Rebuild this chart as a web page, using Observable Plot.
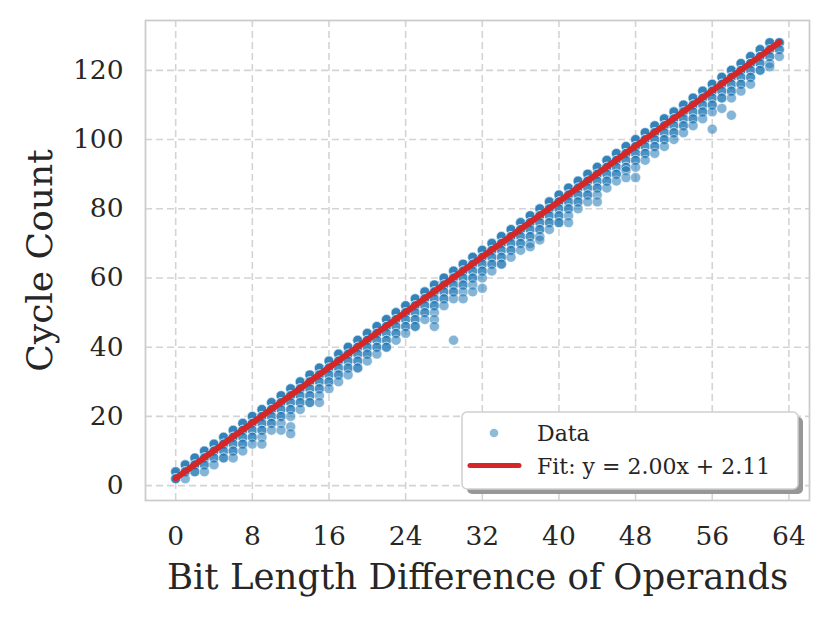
<!DOCTYPE html>
<html>
<head>
<meta charset="utf-8">
<script src="https://cdn.jsdelivr.net/npm/d3@7"></script>
<script src="https://cdn.jsdelivr.net/npm/@observablehq/plot@0.6"></script>
<style>
  html, body { margin: 0; padding: 0; background: #ffffff; }
  svg { display: block; }
</style>
</head>
<body>
<div id="chart"></div>
<script>
// Bit length difference of operands (x) and the cycle counts observed for each
const bitDiffs = [0,1,2,3,4,5,6,7,8,9,10,11,12,13,14,15,16,17,18,19,20,21,22,23,24,25,26,27,28,29,30,31,
                  32,33,34,35,36,37,38,39,40,41,42,43,44,45,46,47,48,49,50,51,52,53,54,55,56,57,58,59,60,61,62,63];
const cycleCounts = [
  [4,4,4,2,2,2],
  [6,6,6,4,4,4,2],
  [8,8,8,6,6,6,4,4],
  [10,10,10,8,8,8,6,6,4],
  [12,12,12,10,10,10,8,8,6],
  [14,14,14,12,12,12,10,10,8,8],
  [16,16,16,14,14,14,12,12,10,10,8],
  [18,18,18,16,16,16,14,14,12,12,10],
  [20,20,20,18,18,18,16,16,14,14,12],
  [22,22,22,20,20,20,18,18,16,16,14,12],
  [24,24,24,22,22,22,20,20,18,18,16],
  [26,26,26,24,24,24,22,22,20,20,18,16],
  [28,28,28,26,26,26,24,24,22,22,20,17,15],
  [30,30,30,28,28,28,26,26,24,24,22],
  [32,32,32,30,30,30,28,28,26,26,24,24],
  [34,34,34,32,32,32,30,30,28,28,26,24],
  [36,36,36,34,34,34,32,32,30,30,28],
  [38,38,38,36,36,36,34,34,32,32,30],
  [40,40,40,38,38,38,36,36,34,34,32],
  [42,42,42,40,40,40,38,38,36,36,34,34],
  [44,44,44,42,42,42,40,40,38,38,36],
  [46,46,46,44,44,44,42,42,40,40,38],
  [48,48,48,46,46,46,44,44,42,42,40,40],
  [50,50,50,48,48,48,46,46,44,44,42],
  [52,52,52,50,50,50,48,48,46,46,44],
  [54,54,54,52,52,52,50,50,48,48,46,46],
  [56,56,56,54,54,54,52,52,50,50,48],
  [58,58,58,56,56,56,54,54,52,52,50,48,46],
  [60,60,60,58,58,58,56,56,54,54,52],
  [62,62,62,60,60,60,58,58,56,56,54,42],
  [64,64,64,62,62,62,60,60,58,58,56,54],
  [66,66,66,64,64,64,62,62,60,60,58,56],
  [68,68,68,66,66,66,64,64,62,62,60,57],
  [70,70,70,68,68,68,66,66,64,64,62],
  [72,72,72,70,70,70,68,68,66,66,64,64],
  [74,74,74,72,72,72,70,70,68,68,66],
  [76,76,76,74,74,74,72,72,70,70,68],
  [78,78,78,76,76,76,74,74,72,72,70,69],
  [80,80,80,78,78,78,76,76,74,74,72,71],
  [82,82,82,80,80,80,78,78,76,76,74],
  [84,84,84,82,82,82,80,80,78,78,76,76],
  [86,86,86,84,84,84,82,82,80,80,78,76],
  [88,88,88,86,86,86,84,84,82,82,80],
  [90,90,90,88,88,88,86,86,84,84,82],
  [92,92,92,90,90,90,88,88,86,86,84,82],
  [94,94,94,92,92,92,90,90,88,88,86],
  [96,96,96,94,94,94,92,92,90,90,88],
  [98,98,98,96,96,96,94,94,92,92,91,89],
  [100,100,100,98,98,98,96,96,94,94,92,89],
  [102,102,102,100,100,100,98,98,96,96,94],
  [104,104,104,102,102,102,100,100,98,98,96],
  [106,106,106,104,104,104,102,102,100,100,98],
  [108,108,108,106,106,106,104,104,102,102,100],
  [110,110,110,108,108,108,106,106,104,104,102],
  [112,112,112,110,110,110,108,108,106,106,104],
  [114,114,114,112,112,112,110,110,108,108,106],
  [116,116,116,114,114,114,112,112,110,110,108,103],
  [118,118,118,116,116,116,114,114,112,112,109],
  [120,120,120,118,118,118,116,116,114,114,112,107],
  [122,122,122,120,120,120,118,118,116,116,114],
  [124,124,124,122,122,122,120,120,118,118,116],
  [126,126,126,124,124,124,122,122,120,120],
  [128,128,128,126,126,124,124,122,121],
  [128,128,128,126,126,124]
];
// Fitted line (from the legend): y = 2.00x + 2.11
const fitSlope = 2.00;
const fitIntercept = 2.11;
const fitRange = [0, 63];

const xTicks = [0, 8, 16, 24, 32, 40, 48, 56, 64];
const yTicks = [0, 20, 40, 60, 80, 100, 120];
const xLabel = "Bit Length Difference of Operands";
const yLabel = "Cycle Count";
const legendLabels = ["Data", "Fit: y = 2.00x + 2.11"];

const points = bitDiffs.flatMap((d, i) => cycleCounts[i].map(c => ({diff: d, cycles: c})));
const fitLine = fitRange.map(x => ({diff: x, cycles: fitSlope * x + fitIntercept}));

const font = "DejaVu Serif, serif";
const textColor = "#262626";

const svg = Plot.plot({
  width: 830,
  height: 618,
  marginLeft: 145,
  marginRight: 21,
  marginTop: 20,
  marginBottom: 118,
  style: {fontFamily: font, color: textColor, background: "#ffffff", overflow: "visible"},
  x: {domain: [-3.15, 66.15], ticks: xTicks, label: null},
  y: {domain: [-4.3, 134.4], ticks: yTicks, label: null},
  marks: [
    Plot.gridX(xTicks, {stroke: "#d4d4d4", strokeOpacity: 1, strokeWidth: 1.6, strokeDasharray: "7,4"}),
    Plot.gridY(yTicks, {stroke: "#d4d4d4", strokeOpacity: 1, strokeWidth: 1.6, strokeDasharray: "7,4"}),
    Plot.frame({stroke: "#cccccc", strokeWidth: 1.8}),
    Plot.dot(points, {x: "diff", y: "cycles", r: 5, fill: "#1f77b4", fillOpacity: 0.55,
                      stroke: "#ffffff", strokeOpacity: 0.5, strokeWidth: 0.9}),
    Plot.line(fitLine, {x: "diff", y: "cycles", stroke: "#d62728", strokeWidth: 6, strokeLinecap: "round"}),
    Plot.axisX(xTicks, {tickSize: 0, tickPadding: 26, fontSize: 26.5, fill: textColor, label: null}),
    Plot.axisY(yTicks, {tickSize: 0, tickPadding: 22, fontSize: 26.5, fill: textColor, label: null}),
    Plot.text([xLabel], {frameAnchor: "bottom", dy: 88, fontSize: 35.5, fill: textColor}),
    Plot.text([yLabel], {frameAnchor: "left", dx: -105, rotate: -90, textAnchor: "middle", fontSize: 36, fill: textColor})
  ]
});

document.getElementById("chart").appendChild(svg);

// Legend box inside the plot area (lower right)
const s = d3.select(svg);
const lg = s.append("g").attr("font-family", font).attr("text-anchor", "start");
lg.append("rect").attr("x", 467).attr("y", 417).attr("width", 336).attr("height", 77)
  .attr("rx", 5).attr("fill", "#8c8c8c").attr("opacity", 0.9);
lg.append("rect").attr("x", 462).attr("y", 412).attr("width", 336).attr("height", 77)
  .attr("rx", 5).attr("fill", "#ffffff").attr("stroke", "#d0d0d0").attr("stroke-width", 1.5);
lg.append("circle").attr("cx", 494).attr("cy", 433).attr("r", 4.3)
  .attr("fill", "#1f77b4").attr("fill-opacity", 0.5);
lg.append("line").attr("x1", 470).attr("x2", 519).attr("y1", 465.5).attr("y2", 465.5)
  .attr("stroke", "#d62728").attr("stroke-width", 5).attr("stroke-linecap", "round");
lg.append("text").attr("x", 537).attr("y", 433).attr("dy", "0.35em").attr("text-anchor", "start")
  .attr("font-size", 22).attr("fill", textColor).text(legendLabels[0]);
lg.append("text").attr("x", 537).attr("y", 466).attr("dy", "0.35em").attr("text-anchor", "start")
  .attr("font-size", 22).attr("fill", textColor).text(legendLabels[1]);
</script>
</body>
</html>
